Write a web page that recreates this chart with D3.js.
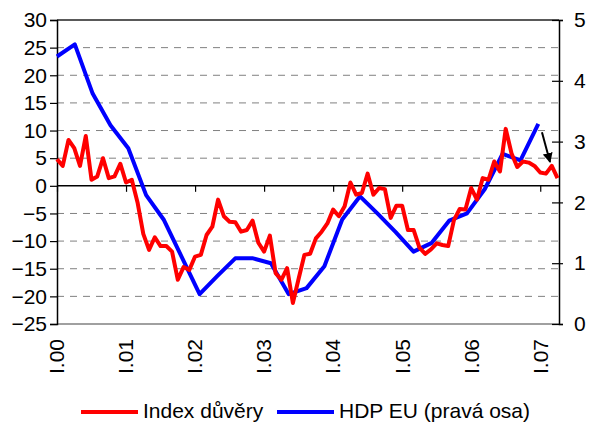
<!DOCTYPE html>
<html>
<head>
<meta charset="utf-8">
<script src="https://cdn.jsdelivr.net/npm/d3@7"></script>
<style>
  body { margin: 0; background: #fff; }
  text { font-family: "Liberation Sans", Arial, sans-serif; }
</style>
</head>
<body>
<svg id="chart" width="589" height="428"></svg>
<script>
// Index důvěry - monthly, I.00 .. IV.07 (left axis)
const confIndex = [
  4.8, 3.6, 8.3, 6.8, 3.6, 9.0, 1.1, 1.7, 5.0, 1.4, 1.7, 4.0,
  0.6, 1.1, -3.0, -8.7, -11.6, -9.3, -10.9, -10.9, -11.9, -17.0, -14.7, -15.2,
  -12.8, -12.5, -8.9, -7.4, -2.5, -5.5, -6.5, -6.6, -8.3, -8.0, -6.3, -10.3,
  -11.9, -9.0, -15.8, -17.0, -14.9, -21.2, -16.8, -12.5, -12.3, -9.5, -8.3, -6.8,
  -4.3, -5.5, -3.7, 0.6, -1.6, -1.3, 2.2, -1.6, -0.4, -0.6, -5.8, -3.6,
  -3.6, -8.0, -8.0, -11.2, -12.3, -11.5, -10.4, -10.7, -10.9, -6.2, -4.2, -4.3,
  -0.4, -2.5, 1.4, 1.1, 4.4, 2.6, 10.3, 5.9, 3.4, 4.4, 4.2, 3.6,
  2.4, 2.2, 3.6, 1.4
];
// HDP EU - quarterly, Q1 2000 .. Q4 2006 (right axis)
const gdpEU = [
  4.40, 4.60, 3.79, 3.27, 2.89, 2.12, 1.71, 1.10,
  0.49, 0.79, 1.08, 1.08, 1.00, 0.49, 0.59, 0.95,
  1.72, 2.10, 1.81, 1.51, 1.19, 1.33, 1.70, 1.82,
  2.22, 2.80, 2.69, 3.29
];
const yearLabels = ["I.00", "I.01", "I.02", "I.03", "I.04", "I.05", "I.06", "I.07"];
const leftTicks = [30, 25, 20, 15, 10, 5, 0, -5, -10, -15, -20, -25];
const rightTicks = [5, 4, 3, 2, 1, 0];
const legendNames = ["Index důvěry", "HDP EU (pravá osa)"];

const svg = d3.select("#chart");
const plot = { left: 57, right: 559, top: 20, bottom: 324 };

// scales
const xMonth = d3.scaleLinear().domain([0, 87]).range([plot.left, 557.5]);
const xQuarter = d3.scaleLinear().domain([0, 27]).range([plot.left, 538.3]);
const yLeft = d3.scaleLinear().domain([-25, 30]).range([plot.bottom, plot.top]);
const yRight = d3.scaleLinear().domain([0, 5]).range([plot.bottom, plot.top]);

// dashed grid
svg.append("g")
  .selectAll("line")
  .data(leftTicks.filter(d => d !== 0 && d !== 30 && d !== -25))
  .enter()
  .append("line")
  .attr("x1", plot.left).attr("x2", plot.right)
  .attr("y1", d => yLeft(d)).attr("y2", d => yLeft(d))
  .attr("stroke", "#808080")
  .attr("stroke-width", 1)
  .attr("stroke-dasharray", "7,6");

// frame top / bottom
svg.append("line")
  .attr("x1", plot.left).attr("x2", plot.right)
  .attr("y1", yLeft(30)).attr("y2", yLeft(30))
  .attr("stroke", "#222").attr("stroke-width", 1.5);
svg.append("line")
  .attr("x1", plot.left).attr("x2", plot.right)
  .attr("y1", yLeft(-25)).attr("y2", yLeft(-25))
  .attr("stroke", "#808080").attr("stroke-width", 1.5);

// left axis
const leftAxis = d3.axisLeft(yLeft).tickValues(leftTicks).tickSize(7).tickPadding(3)
  .tickFormat(d3.format("d"));
const gLeft = svg.append("g")
  .attr("transform", `translate(${plot.left}, 0)`)
  .call(leftAxis);
gLeft.select(".domain").attr("stroke", "#000").attr("stroke-width", 1.5);
gLeft.selectAll(".tick line").attr("stroke", "#000").attr("stroke-width", 1.2);
gLeft.selectAll("text")
  .attr("fill", "#000")
  .style("font-size", "21px")
  .style("font-family", "Liberation Sans, Arial, sans-serif");

// right axis (ticks cross)
const rightAxis = d3.axisRight(yRight).tickValues(rightTicks).tickSize(4).tickPadding(11)
  .tickFormat(d3.format("d"));
const gRight = svg.append("g")
  .attr("transform", `translate(${plot.right}, 0)`)
  .call(rightAxis);
gRight.select(".domain").attr("stroke", "#000").attr("stroke-width", 1.5);
gRight.selectAll(".tick line").attr("x1", -7).attr("stroke", "#000").attr("stroke-width", 1.2);
gRight.selectAll("text")
  .attr("fill", "#000")
  .style("font-size", "21px")
  .style("font-family", "Liberation Sans, Arial, sans-serif");

// zero line with year ticks
const yearTicks = yearLabels.map((d, i) => i * 12);
const xAxis = d3.axisBottom(xMonth).tickValues(yearTicks).tickSize(6).tickFormat("");
const gX = svg.append("g")
  .attr("transform", `translate(0, ${yLeft(0)})`)
  .call(xAxis);
gX.select(".domain").attr("d", `M${plot.left},0H${plot.right}`).attr("stroke", "#000").attr("stroke-width", 1.5);
gX.selectAll(".tick line").attr("stroke", "#000").attr("stroke-width", 1.2);

// rotated year labels below the plot
svg.append("g")
  .selectAll("text")
  .data(yearLabels)
  .enter()
  .append("text")
  .attr("transform", (d, i) => `translate(${xMonth(i * 12)}, 339) rotate(-90)`)
  .attr("dy", "0.35em")
  .attr("text-anchor", "end")
  .style("font-size", "21px")
  .attr("fill", "#000")
  .text(d => d);

// lines
const redLine = d3.line()
  .x((d, i) => xMonth(i))
  .y(d => yLeft(d));
const blueLine = d3.line()
  .x((d, i) => xQuarter(i))
  .y(d => yRight(d));

svg.append("path")
  .datum(gdpEU)
  .attr("d", blueLine)
  .attr("fill", "none")
  .attr("stroke", "#0000ff")
  .attr("stroke-width", 4)
  .attr("stroke-linejoin", "round");

svg.append("path")
  .datum(confIndex)
  .attr("d", redLine)
  .attr("fill", "none")
  .attr("stroke", "#ff0000")
  .attr("stroke-width", 4)
  .attr("stroke-linejoin", "round");

// arrow
svg.append("defs").append("marker")
  .attr("id", "arrow")
  .attr("viewBox", "0 0 10 10")
  .attr("refX", 9).attr("refY", 5)
  .attr("markerWidth", 5).attr("markerHeight", 5)
  .attr("orient", "auto")
  .append("path")
  .attr("d", "M0,0L10,5L0,10z")
  .attr("fill", "#000");
svg.append("line")
  .attr("x1", xMonth(84.3)).attr("y1", yLeft(9.7))
  .attr("x2", xMonth(85.7)).attr("y2", yLeft(4.3))
  .attr("stroke", "#000")
  .attr("stroke-width", 2)
  .attr("marker-end", "url(#arrow)");

// legend
const legendColors = ["#ff0000", "#0000ff"];
const legendX = [81, 277];
const legend = svg.append("g")
  .selectAll("g")
  .data(legendNames)
  .enter()
  .append("g")
  .attr("transform", (d, i) => `translate(${legendX[i]}, 412)`);
legend.append("line")
  .attr("x1", 0).attr("x2", 57)
  .attr("stroke", (d, i) => legendColors[i])
  .attr("stroke-width", 4);
legend.append("text")
  .attr("x", 62)
  .attr("y", 6)
  .style("font-size", "21px")
  .attr("fill", "#000")
  .text(d => d);
</script>
</body>
</html>
